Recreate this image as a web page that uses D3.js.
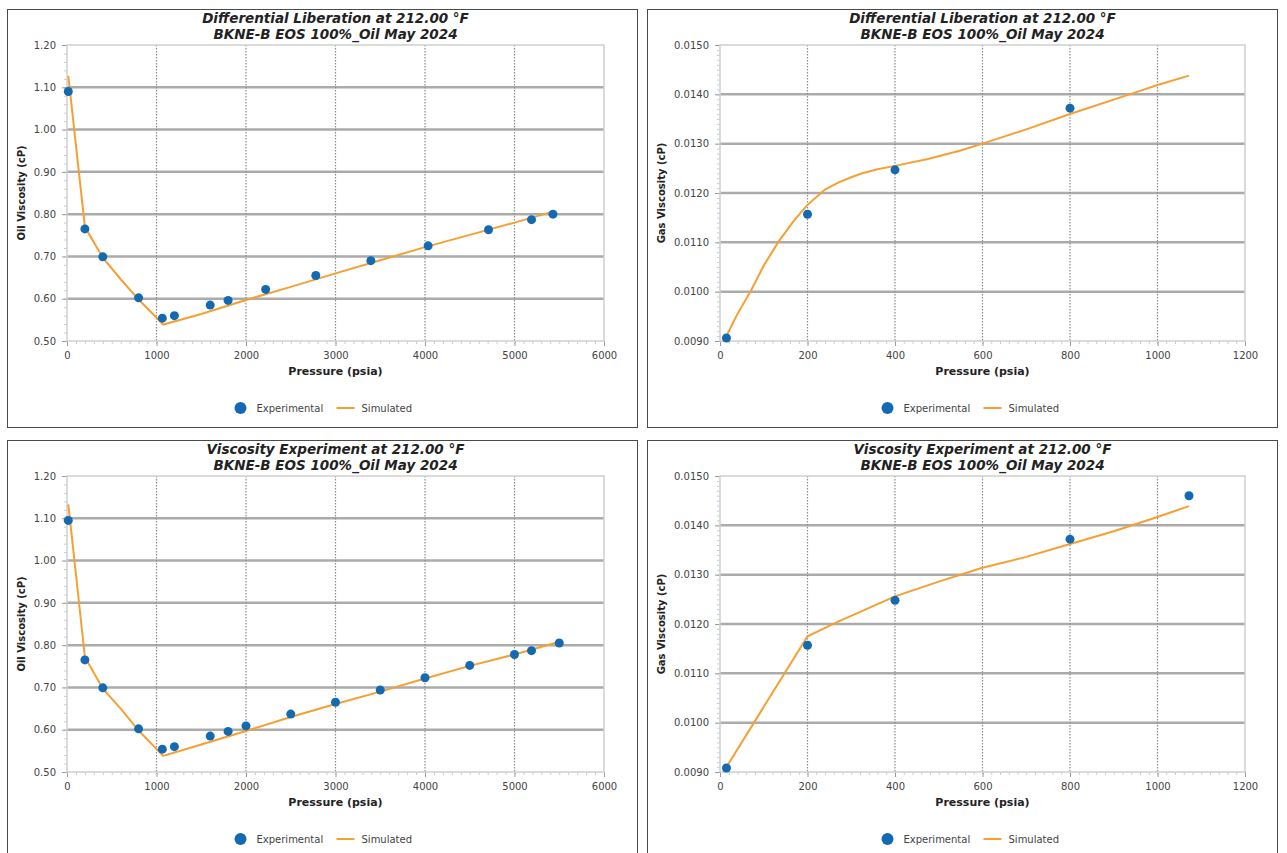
<!DOCTYPE html>
<html>
<head>
<meta charset="utf-8">
<script src="https://cdn.jsdelivr.net/npm/d3@7"></script>
<style>
  body { margin: 0; background: #fff; }
  svg { display: block; font-family: "DejaVu Sans", Verdana, sans-serif; }
</style>
</head>
<body>
<svg width="1287" height="853"></svg>
<script>
document.addEventListener('DOMContentLoaded', () => {

    // ---- data ----
    const titleLine2 = 'BKNE-B EOS 100%_Oil May 2024';
    const legendLabels = ['Experimental', 'Simulated'];

    const oilTicksX = [0, 1000, 2000, 3000, 4000, 5000, 6000];
    const oilTicksY = [0.5, 0.6, 0.7, 0.8, 0.9, 1.0, 1.1, 1.2];
    const gasTicksX = [0, 200, 400, 600, 800, 1000, 1200];
    const gasTicksY = [0.009, 0.010, 0.011, 0.012, 0.013, 0.014, 0.015];

    // Differential liberation - oil viscosity
    const dlOilExpP = [14.7, 200, 400, 800, 1065, 1200, 1600, 1800, 2220, 2780, 3395, 4035, 4710, 5190, 5430];
    const dlOilExpV = [1.090, 0.765, 0.699, 0.602, 0.554, 0.560, 0.585, 0.596, 0.622, 0.655, 0.690, 0.725, 0.763, 0.787, 0.800];
    const dlOilSimP = [14.7, 200, 400, 600, 800, 1075, 1500, 2000, 2500, 3000, 3500, 4000, 4500, 5000, 5430];
    const dlOilSimV = [1.127, 0.770, 0.697, 0.646, 0.598, 0.539, 0.564, 0.597, 0.628, 0.660, 0.691, 0.722, 0.751, 0.780, 0.806];

    // Differential liberation - gas viscosity
    const dlGasExpP = [14.7, 200, 400, 800];
    const dlGasExpV = [0.00906, 0.01157, 0.01247, 0.01372];
    const dlGasSimP = [14.7, 40, 70, 100, 135, 170, 200, 240, 270, 300, 325, 360, 400, 475, 550, 600, 700, 800, 950, 1000, 1072];
    const dlGasSimV = [0.00910, 0.00955, 0.01001, 0.01053, 0.01103, 0.01145, 0.01176, 0.01207, 0.01221, 0.01232, 0.01240, 0.01248, 0.01255, 0.01269, 0.01286, 0.01300, 0.01329, 0.01360, 0.01404, 0.01419, 0.01438];

    // Viscosity experiment - oil viscosity
    const veOilExpP = [14.7, 200, 400, 800, 1065, 1200, 1600, 1800, 2000, 2500, 3000, 3500, 4000, 4500, 5000, 5190, 5500];
    const veOilExpV = [1.095, 0.765, 0.699, 0.602, 0.554, 0.560, 0.585, 0.596, 0.609, 0.637, 0.665, 0.694, 0.723, 0.752, 0.778, 0.787, 0.805];
    const veOilSimP = [14.7, 200, 400, 600, 800, 1075, 1500, 2000, 2500, 3000, 3500, 4000, 4500, 5000, 5500];
    const veOilSimV = [1.133, 0.772, 0.697, 0.650, 0.598, 0.538, 0.565, 0.597, 0.630, 0.661, 0.690, 0.721, 0.751, 0.778, 0.808];

    // Viscosity experiment - gas viscosity
    const veGasExpP = [14.7, 200, 400, 800, 1072];
    const veGasExpV = [0.00908, 0.01157, 0.01248, 0.01372, 0.01460];
    const veGasSimP = [14.7, 200, 270, 400, 500, 600, 700, 800, 900, 1000, 1072];
    const veGasSimV = [0.00910, 0.01175, 0.01205, 0.01256, 0.01286, 0.01314, 0.01336, 0.01362, 0.01388, 0.01417, 0.01439];

    const svg = d3.select('svg');
    const panelW = 630, panelH = 418;
    const blue = '#136ab1', orange = '#f6a033';

    const panels = [
        { x: 7,   y: 9,   title: 'Differential Liberation at 212.00 °F', yLabel: 'Oil Viscosity (cP)',
          left: 60, right: 597, xTicks: oilTicksX, yTicks: oilTicksY, fmt: d3.format('.2f'), xMinor: 100, yMinor: 0.02,
          expP: dlOilExpP, expV: dlOilExpV, simP: dlOilSimP, simV: dlOilSimV },
        { x: 647, y: 9,   title: 'Differential Liberation at 212.00 °F', yLabel: 'Gas Viscosity (cP)',
          left: 73, right: 598, xTicks: gasTicksX, yTicks: gasTicksY, fmt: d3.format('.4f'), xMinor: 20, yMinor: 0.0001,
          expP: dlGasExpP, expV: dlGasExpV, simP: dlGasSimP, simV: dlGasSimV },
        { x: 7,   y: 440, title: 'Viscosity Experiment at 212.00 °F', yLabel: 'Oil Viscosity (cP)',
          left: 60, right: 597, xTicks: oilTicksX, yTicks: oilTicksY, fmt: d3.format('.2f'), xMinor: 100, yMinor: 0.02,
          expP: veOilExpP, expV: veOilExpV, simP: veOilSimP, simV: veOilSimV },
        { x: 647, y: 440, title: 'Viscosity Experiment at 212.00 °F', yLabel: 'Gas Viscosity (cP)',
          left: 73, right: 598, xTicks: gasTicksX, yTicks: gasTicksY, fmt: d3.format('.4f'), xMinor: 20, yMinor: 0.0001,
          expP: veGasExpP, expV: veGasExpV, simP: veGasSimP, simV: veGasSimV }
    ];

    panels.forEach(p => drawPanel(p));

    function drawPanel(p) {
        const top = 36, bottom = 332;
        const g = svg.append('g').attr('transform', `translate(${p.x},${p.y})`);

        g.append('rect')
            .attr('x', 0.5).attr('y', 0.5)
            .attr('width', panelW).attr('height', panelH)
            .attr('fill', '#fff').attr('stroke', '#4a4a4a');

        const xs = d3.scaleLinear().domain(d3.extent(p.xTicks)).range([p.left, p.right]);
        const ys = d3.scaleLinear().domain(d3.extent(p.yTicks)).range([bottom, top]);

        // minor ticks
        const xd = xs.domain(), yd = ys.domain();
        const xMinorVals = d3.range(xd[0], xd[1] + 1e-9, p.xMinor);
        const yMinorVals = d3.range(0, Math.round((yd[1] - yd[0]) / p.yMinor) + 1).map(i => yd[0] + i * p.yMinor);

        g.append('g').attr('transform', `translate(0,${bottom})`)
            .call(d3.axisBottom(xs).tickValues(xMinorVals).tickSize(3).tickFormat(''))
            .call(a => a.select('.domain').remove())
            .call(a => a.selectAll('line').attr('stroke', '#c3cde0'));
        g.append('g').attr('transform', `translate(${p.left},0)`)
            .call(d3.axisLeft(ys).tickValues(yMinorVals).tickSize(3).tickFormat(''))
            .call(a => a.select('.domain').remove())
            .call(a => a.selectAll('line').attr('stroke', '#c3cde0'));

        // major axes
        g.append('g').attr('transform', `translate(0,${bottom})`)
            .call(d3.axisBottom(xs).tickValues(p.xTicks).tickSize(5).tickPadding(6).tickFormat(d3.format('d')))
            .call(a => a.select('.domain').remove())
            .call(a => a.selectAll('line').attr('stroke', '#9a9a9a'))
            .call(a => a.selectAll('text').attr('fill', '#444').attr('font-size', 10)
                .attr('font-family', '"DejaVu Sans", Verdana, sans-serif'));
        g.append('g').attr('transform', `translate(${p.left},0)`)
            .call(d3.axisLeft(ys).tickValues(p.yTicks).tickSize(5).tickPadding(6).tickFormat(p.fmt))
            .call(a => a.select('.domain').remove())
            .call(a => a.selectAll('line').attr('stroke', '#9a9a9a'))
            .call(a => a.selectAll('text').attr('fill', '#444').attr('font-size', 10)
                .attr('font-family', '"DejaVu Sans", Verdana, sans-serif'));

        // grid
        g.append('g').selectAll('line')
            .data(p.yTicks.slice(1, -1))
            .enter().append('line')
            .attr('x1', p.left).attr('x2', p.right)
            .attr('y1', d => ys(d)).attr('y2', d => ys(d))
            .attr('stroke', '#ababab').attr('stroke-width', 2.5);
        g.append('g').selectAll('line')
            .data(p.xTicks.slice(1, -1))
            .enter().append('line')
            .attr('x1', d => xs(d)).attr('x2', d => xs(d))
            .attr('y1', top).attr('y2', bottom)
            .attr('stroke', '#8c8c8c').attr('stroke-width', 1.2)
            .attr('stroke-dasharray', '1.5,1.5');

        // frame
        g.append('rect')
            .attr('x', p.left).attr('y', top)
            .attr('width', p.right - p.left).attr('height', bottom - top)
            .attr('fill', 'none').attr('stroke', '#cfcfcf').attr('stroke-width', 1.5);

        // simulated line
        const line = d3.line().x(d => xs(d[0])).y(d => ys(d[1]));
        g.append('path')
            .datum(d3.zip(p.simP, p.simV))
            .attr('d', line)
            .attr('fill', 'none').attr('stroke', orange).attr('stroke-width', 2);

        // experimental points
        g.append('g').selectAll('circle')
            .data(d3.zip(p.expP, p.expV))
            .enter().append('circle')
            .attr('cx', d => xs(d[0])).attr('cy', d => ys(d[1]))
            .attr('r', 4.5).attr('fill', blue);

        // titles
        const cx = (p.left + p.right) / 2;
        g.append('text').attr('x', cx).attr('y', 14).attr('text-anchor', 'middle')
            .attr('font-size', 13.5).attr('font-weight', 'bold').attr('font-style', 'italic')
            .attr('fill', '#222').text(p.title);
        g.append('text').attr('x', cx).attr('y', 30).attr('text-anchor', 'middle')
            .attr('font-size', 13.5).attr('font-weight', 'bold').attr('font-style', 'italic')
            .attr('fill', '#222').text(titleLine2);

        g.append('text').attr('x', cx).attr('y', 366).attr('text-anchor', 'middle')
            .attr('font-size', 11).attr('font-weight', 'bold').attr('fill', '#222')
            .text('Pressure (psia)');
        g.append('text')
            .attr('transform', `translate(18,${(top + bottom) / 2}) rotate(-90)`)
            .attr('text-anchor', 'middle')
            .attr('font-size', 10).attr('font-weight', 'bold').attr('fill', '#222')
            .text(p.yLabel);

        // legend
        const lg = g.append('g').attr('transform', `translate(${cx},399)`);
        lg.append('circle').attr('cx', -95).attr('cy', 0).attr('r', 6).attr('fill', blue);
        lg.append('text').attr('x', -79).attr('y', 3.5).attr('font-size', 10).attr('fill', '#444').text(legendLabels[0]);
        lg.append('line').attr('x1', 1).attr('x2', 19).attr('y1', 0).attr('y2', 0)
            .attr('stroke', orange).attr('stroke-width', 2);
        lg.append('text').attr('x', 26).attr('y', 3.5).attr('font-size', 10).attr('fill', '#444').text(legendLabels[1]);
    }
});
</script>
</body>
</html>
